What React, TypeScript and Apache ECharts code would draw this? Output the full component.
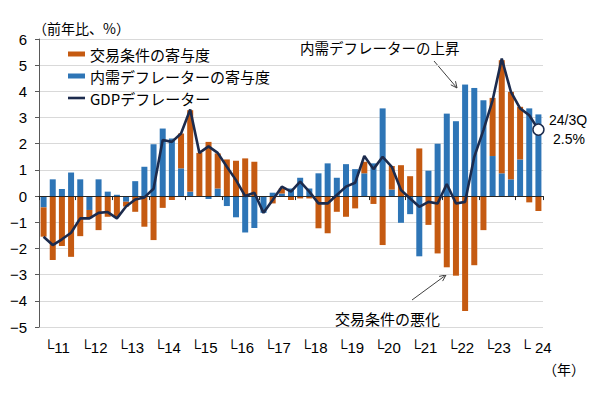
import { useEffect, useRef } from 'react';
import * as echarts from 'echarts';

// 2011Q1 .. 2024Q3
const years = [11, 12, 13, 14, 15, 16, 17, 18, 19, 20, 21, 22, 23, 24];
const quarters: string[] = [];
years.forEach((y) => [1, 2, 3, 4].forEach((q) => quarters.push(`${y}/${q}Q`)));
quarters.length = 55;

const yearLabels = ['└11', '└12', '└13', '└14', '└15', '└16', '└17', '└18', '└19', '└20', '└21', '└22', '└23', '└ 24'];

// 内需デフレーターの寄与度
const domestic = [
  -0.43, 0.64, 0.27, 0.9,
  0.64, -0.53, 0.64, 0.17,
  0.05, -0.22, 0.57, 1.12,
  1.98, 2.58, 2.2, 1.06,
  0.17, 0, -0.11, 0.29,
  -0.38, -0.81, -1.39, -1.22,
  -0.64, 0.13, 0.1, 0.29,
  0.7, 0.29, 0.87, 1.25,
  0.7, 1.22, 1.03, 0.87,
  1.25, 3.35, 0.25, -1.02,
  -0.69, -2.3, 0.97, 2.0,
  3.15, 2.86, 4.26, 4.13,
  3.66, 1.53, 0.87, 0.64,
  1.4, 3.35, 3.12,
];

// 交易条件の寄与度
const terms = [
  -1.12, -2.44, -1.91, -2.32,
  -1.53, -0.32, -1.3, -0.79,
  -0.8, -0.18, -0.6, -1.17,
  -1.68, -0.45, -0.15, 1.33,
  3.11, 1.65, 2.07, 1.34,
  1.4, 1.35, 1.44, 1.31,
  0, -0.28, 0.2, -0.15,
  -0.09, -0.09, -1.23, -1.42,
  -0.6, -0.79, -0.47, 0.44,
  -0.3, -1.87, 0.9, 1.18,
  0.76, 1.82, -1.1, -2.19,
  -2.72, -3.04, -4.39, -2.64,
  -1.3, 2.22, 4.32, 3.34,
  2.01, -0.24, -0.57,
];

// GDPデフレーター
const gdp = [
  -1.55, -1.87, -1.65, -1.4,
  -0.85, -0.85, -0.64, -0.61,
  -0.85, -0.4, -0.13, -0.05,
  0.28, 2.14, 2.07, 2.39,
  3.31, 1.65, 1.9, 1.65,
  1.12, 0.61, 0.0, 0.13,
  -0.64, -0.15, 0.36, 0.17,
  0.55, 0.17, -0.28, -0.28,
  0.04, 0.36, 0.51, 1.53,
  1.03, 1.5, 1.12, 0.23,
  -0.09, -0.41, -0.22, -0.28,
  0.46, -0.28, -0.22, 1.5,
  2.52, 3.66, 5.25, 3.98,
  3.35, 3.09, 2.54,
];

const ORANGE = '#C55A11';
const BLUE = '#2E75B6';
const NAVY = '#1c2b4d';
const FONT = "'Liberation Sans', 'Noto Sans CJK JP', sans-serif";
const JFONT = "'Noto Sans CJK JP', sans-serif";

export default function App() {
  const ref = useRef<HTMLDivElement>(null);
  useEffect(() => {
    document.body.style.margin = '0';
    if (!ref.current) return;
    const chart = echarts.init(ref.current, undefined, { renderer: 'svg' });
    const option: any = {
      animation: false,
      backgroundColor: '#fff',
      grid: { left: 39, right: 57, top: 39, bottom: 68 },
      legend: {
        orient: 'vertical',
        left: 63,
        top: 41,
        itemWidth: 17,
        itemHeight: 5,
        itemGap: 6,
        symbolKeepAspect: true,
        textStyle: { fontSize: 15, color: '#000', fontFamily: JFONT, lineHeight: 16 },
        data: [
          { name: '交易条件の寄与度', icon: 'rect' },
          { name: '内需デフレーターの寄与度', icon: 'rect' },
          { name: 'GDPデフレーター', icon: 'path://M0,0 L17,0 L17,2.6 L0,2.6 Z' },
        ],
      },
      xAxis: [
        {
          type: 'category',
          data: quarters,
          boundaryGap: true,
          z: 3,
          axisLine: { onZero: true, lineStyle: { color: '#262626', width: 1.2 } },
          axisTick: { show: true, interval: (i: number) => i % 4 === 0, length: 4, lineStyle: { color: '#262626' } },
          axisLabel: { show: false },
          splitLine: { show: false },
        },
        {
          type: 'category',
          data: quarters,
          position: 'bottom',
          boundaryGap: true,
          axisLine: { show: false, onZero: false },
          axisTick: { show: false },
          splitLine: { show: false },
          axisLabel: {
            interval: 0,
            formatter: (_v: string, i: number) => (i % 4 === 0 ? yearLabels[i / 4] : ''),
            align: 'left',
            margin: 13,
            fontSize: 15,
            color: '#000',
            fontFamily: FONT,
          },
        },
      ],
      yAxis: {
        type: 'value',
        min: -5,
        max: 6,
        interval: 1,
        axisLine: { show: true, lineStyle: { color: '#595959' } },
        axisTick: { show: true, length: 4, lineStyle: { color: '#595959' } },
        axisLabel: {
          formatter: (v: number) => (v < 0 ? '−' + Math.abs(v) : String(v)),
          fontSize: 15,
          color: '#000',
          margin: 12,
          fontFamily: FONT,
        },
        splitLine: { lineStyle: { color: '#d9d9d9' } },
      },
      series: [
        {
          name: '内需デフレーターの寄与度',
          type: 'bar',
          stack: 'contrib',
          data: domestic,
          barWidth: 6,
          itemStyle: { color: BLUE },
        },
        {
          name: '交易条件の寄与度',
          type: 'bar',
          stack: 'contrib',
          data: terms,
          barWidth: 6,
          itemStyle: { color: ORANGE },
        },
        {
          name: 'GDPデフレーター',
          type: 'line',
          data: gdp,
          symbol: 'none',
          z: 4,
          lineStyle: { color: NAVY, width: 2.6 },
          itemStyle: { color: NAVY },
        },
        {
          name: 'latest',
          type: 'scatter',
          data: gdp.map((v, i) => (i === gdp.length - 1 ? v : '-')),
          symbolSize: 11,
          z: 5,
          itemStyle: { color: '#ffffff', opacity: 1, borderColor: NAVY, borderWidth: 1.5 },
        },
      ],
      graphic: [
        { type: 'text', x: 33, y: 28, style: { text: '（前年比、%）', fontSize: 14, fontFamily: JFONT, fill: '#000', verticalAlign: 'middle' } },
        { type: 'text', x: 300, y: 47, style: { text: '内需デフレーターの上昇', fontSize: 14.5, fontFamily: JFONT, fill: '#000', verticalAlign: 'middle' } },
        { type: 'line', shape: { x1: 434, y1: 61, x2: 457, y2: 88 }, style: { stroke: '#404040', lineWidth: 1 } },
        { type: 'polyline', shape: { points: [[455.5, 81.2], [457, 88], [450.8, 84.8]] }, style: { stroke: '#404040', lineWidth: 1, fill: 'none' } },
        { type: 'text', x: 335, y: 318, style: { text: '交易条件の悪化', fontSize: 15, fontFamily: JFONT, fill: '#000', verticalAlign: 'middle' } },
        { type: 'line', shape: { x1: 412, y1: 300, x2: 446, y2: 275 }, style: { stroke: '#404040', lineWidth: 1 } },
        { type: 'polyline', shape: { points: [[439.1, 276.4], [446, 275], [442.6, 281.1]] }, style: { stroke: '#404040', lineWidth: 1, fill: 'none' } },
        { type: 'text', x: 549, y: 120, style: { text: '24/3Q', fontSize: 14, fontFamily: FONT, fill: '#000', verticalAlign: 'middle' } },
        { type: 'text', x: 553, y: 139, style: { text: '2.5%', fontSize: 14, fontFamily: FONT, fill: '#000', verticalAlign: 'middle' } },
        { type: 'text', x: 543, y: 369, style: { text: '（年）', fontSize: 14, fontFamily: JFONT, fill: '#000', verticalAlign: 'middle' } },
      ],
    };
    chart.setOption(option);
    return () => chart.dispose();
  }, []);
  return <div ref={ref} style={{ position: 'fixed', left: 0, top: 0, width: 600, height: 395 }} />;
}
